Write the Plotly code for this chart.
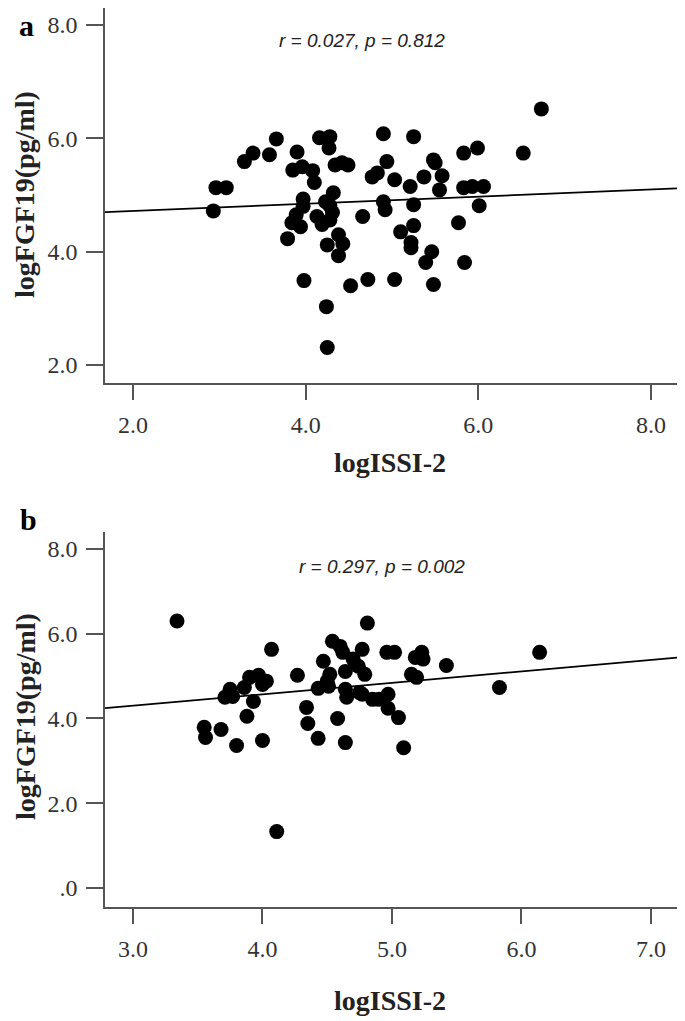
import plotly.graph_objects as go

# ---------------- data ----------------
a_x = [2.93, 2.96, 3.08, 3.29, 3.39, 3.58, 3.66, 3.79, 3.84, 3.85, 3.89, 3.90, 3.94, 3.96,
       3.97, 3.97, 3.98, 4.08, 4.10, 4.13, 4.16, 4.19, 4.23, 4.24, 4.25, 4.25, 4.27, 4.28,
       4.28, 4.28, 4.31, 4.32, 4.34, 4.38, 4.38, 4.42, 4.43, 4.49, 4.52, 4.66, 4.72, 4.77,
       4.83, 4.90, 4.90, 4.92, 4.94, 5.03, 5.03, 5.10, 5.21, 5.22, 5.22, 5.25, 5.25, 5.25,
       5.37, 5.39, 5.46, 5.48, 5.50, 5.48, 5.55, 5.58, 5.77, 5.83, 5.83, 5.84, 5.93, 5.99,
       6.01, 6.06, 6.52, 6.73]
a_y = [4.72, 5.13, 5.13, 5.59, 5.74, 5.71, 5.99, 4.23, 4.51, 5.44, 4.65, 5.76, 4.44, 5.50,
       4.93, 4.80, 3.49, 5.43, 5.22, 4.62, 6.01, 4.48, 4.88, 3.03, 2.31, 4.12, 5.83, 6.03,
       4.81, 4.56, 4.69, 5.04, 5.53, 3.93, 4.30, 5.57, 4.14, 5.53, 3.40, 4.62, 3.51, 5.32,
       5.39, 6.08, 4.88, 4.74, 5.59, 5.27, 3.51, 4.35, 5.15, 4.16, 4.07, 6.03, 4.83, 4.46,
       5.32, 3.81, 4.00, 5.62, 5.57, 3.42, 5.09, 5.34, 4.51, 5.74, 5.13, 3.81, 5.15, 5.83,
       4.81, 5.15, 5.74, 6.52]

b_x = [3.34, 4.07, 4.54, 4.60, 4.62, 4.47, 4.27, 4.64, 4.52, 4.50, 4.43, 4.51, 4.64, 4.65,
       3.90, 3.97, 4.03, 4.00, 3.86, 3.75, 3.71, 3.77, 3.93, 3.88, 4.34, 4.35, 3.55, 3.56,
       3.68, 3.80, 4.00, 4.43, 4.58, 4.64, 4.11, 4.81, 4.70, 4.77, 4.96, 5.02, 5.18, 5.23,
       5.24, 5.42, 4.74, 4.79, 5.15, 5.19, 4.75, 4.77, 4.85, 4.90, 4.97, 4.97, 5.05, 5.09,
       5.83, 6.14]
b_y = [6.30, 5.63, 5.82, 5.70, 5.56, 5.35, 5.02, 5.11, 5.04, 4.88, 4.71, 4.76, 4.69, 4.50,
       4.97, 5.02, 4.88, 4.80, 4.73, 4.69, 4.50, 4.52, 4.40, 4.05, 4.26, 3.88, 3.79, 3.55,
       3.74, 3.36, 3.48, 3.53, 4.00, 3.43, 1.33, 6.25, 5.40, 5.63, 5.56, 5.56, 5.44, 5.56,
       5.40, 5.25, 5.23, 5.04, 5.04, 4.97, 4.61, 4.57, 4.45, 4.45, 4.57, 4.24, 4.02, 3.31,
       4.73, 5.56]

# fitted lines (intercept, slope)
fit_a = [4.594, 0.063]
fit_b = [3.49, 0.27]

# axes
a_xrange = [1.675, 8.336]
a_yrange = [1.683, 8.30]
b_xrange = [2.784, 7.224]
b_yrange = [-0.45, 8.40]
a_xticks = [2, 4, 6, 8]
a_xtext = ["2.0", "4.0", "6.0", "8.0"]
a_yticks = [2, 4, 6, 8]
a_ytext = ["2.0", "4.0", "6.0", "8.0"]
b_xticks = [3, 4, 5, 6, 7]
b_xtext = ["3.0", "4.0", "5.0", "6.0", "7.0"]
b_yticks = [0, 2, 4, 6, 8]
b_ytext = [".0", "2.0", "4.0", "6.0", "8.0"]

stat_a = "r = 0.027, p = 0.812"
stat_b = "r = 0.297, p = 0.002"

# ---------------- figure ----------------
OFF = 8                      # page body margin
W, H = 685 - OFF, 1021 - OFF


def px(v):
    return (v - OFF) / W


def py(v):
    return 1 - (v - OFF) / H


fig = go.Figure()

mk = dict(color="black", size=15, line=dict(width=0))
fig.add_trace(go.Scatter(x=a_x, y=a_y, mode="markers", marker=mk, xaxis="x", yaxis="y",
                         showlegend=False, hoverinfo="skip"))
fig.add_trace(go.Scatter(x=b_x, y=b_y, mode="markers", marker=mk, xaxis="x2", yaxis="y2",
                         showlegend=False, hoverinfo="skip"))

lx_a = a_xrange
ly_a = [fit_a[0] + fit_a[1] * v for v in lx_a]
lx_b = b_xrange
ly_b = [fit_b[0] + fit_b[1] * v for v in lx_b]
fig.add_trace(go.Scatter(x=lx_a, y=ly_a, mode="lines", line=dict(color="black", width=1.8),
                         xaxis="x", yaxis="y", showlegend=False, hoverinfo="skip"))
fig.add_trace(go.Scatter(x=lx_b, y=ly_b, mode="lines", line=dict(color="black", width=1.8),
                         xaxis="x2", yaxis="y2", showlegend=False, hoverinfo="skip"))

axcol = "#555555"
tickfont = dict(family="Liberation Serif", size=24, color="#333333")


def ax(rng, tv, tt, domain, anchor, tlen, standoff):
    return dict(range=rng, tickvals=tv, ticktext=tt, domain=domain, anchor=anchor,
                showgrid=False, zeroline=False, showline=True, linecolor=axcol, linewidth=1.5,
                ticks="outside", ticklen=tlen, tickwidth=1.5, tickcolor=axcol,
                ticklabelstandoff=standoff,
                tickfont=tickfont, mirror=False, automargin=False, fixedrange=True)


xd = [px(105), px(680)]
ya_d = [py(383), py(8)]
yb_d = [py(907), py(532)]

fig.update_layout(
    width=W, height=H,
    margin=dict(l=0, r=0, t=0, b=0),
    paper_bgcolor="white", plot_bgcolor="white",
    xaxis=ax(a_xrange, a_xticks, a_xtext, xd, "y", 15, 4),
    yaxis=ax(a_yrange, a_yticks, a_ytext, ya_d, "x", 17, 4),
    xaxis2=ax(b_xrange, b_xticks, b_xtext, xd, "y2", 15, 4),
    yaxis2=ax(b_yrange, b_yticks, b_ytext, yb_d, "x2", 17, 4),
)

ann = []
titlefont = dict(family="Liberation Serif", size=28, color="#222222")
letterfont = dict(family="Liberation Serif", size=30, color="black")
statfont = dict(family="Liberation Sans", size=19, color="#222222")
# panel letters
ann.append(dict(text="<b>a</b>", x=px(18), y=1, xref="paper", yref="paper",
                xanchor="left", yanchor="top", borderpad=0, showarrow=False, font=letterfont))
ann.append(dict(text="<b>b</b>", x=px(18), y=py(520), xref="paper", yref="paper",
                xanchor="left", yanchor="middle", showarrow=False, font=letterfont))
# stats text
ann.append(dict(text="<i>" + stat_a + "</i>", x=px(362), y=py(40), xref="paper", yref="paper",
                xanchor="center", yanchor="middle", showarrow=False, font=statfont))
ann.append(dict(text="<i>" + stat_b + "</i>", x=px(382), y=py(566), xref="paper", yref="paper",
                xanchor="center", yanchor="middle", showarrow=False, font=statfont))
# axis titles
ann.append(dict(text="<b>logISSI-2</b>", x=px(390), y=py(463), xref="paper", yref="paper",
                xanchor="center", yanchor="middle", showarrow=False, font=titlefont))
ann.append(dict(text="<b>logISSI-2</b>", x=px(390), y=py(1000), xref="paper", yref="paper",
                xanchor="center", yanchor="middle", showarrow=False, font=titlefont))
ann.append(dict(text="<b>logFGF19(pg/ml)</b>", x=px(25), y=py(195), xref="paper", yref="paper",
                xanchor="center", yanchor="middle", textangle=-90, showarrow=False, font=titlefont))
ann.append(dict(text="<b>logFGF19(pg/ml)</b>", x=px(25), y=py(717), xref="paper", yref="paper",
                xanchor="center", yanchor="middle", textangle=-90, showarrow=False, font=titlefont))
fig.update_layout(annotations=ann)

fig.write_html("out.html")
